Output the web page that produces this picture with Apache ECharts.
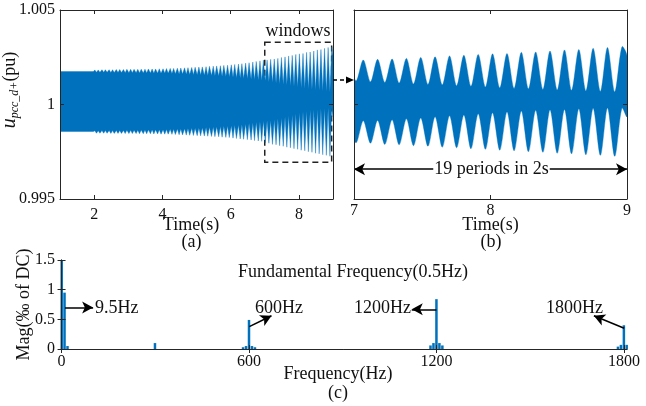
<!DOCTYPE html>
<html><head><meta charset="utf-8">
<script src="https://cdn.jsdelivr.net/npm/echarts@6/dist/echarts.min.js"></script>
<style>html,body{margin:0;padding:0;background:#fff}#c{width:646px;height:406px}</style>
</head><body><div id="c"></div>
<script>
// ---------- time-domain envelope data (pu) ----------
// steady band before the disturbance (1 s .. 2 s)
const flatTime  = [1.0, 1.98];
const flatUpper = [1.00174, 1.00174];
const flatLower = [0.99857, 0.99857];

// 2 s .. 7 s : 9.5 Hz envelope extrema (peaks of the band)
const growPeakTime = [2.02,2.12,2.23,2.33,2.44,2.54,2.65,2.75,2.86,2.96,
  3.07,3.17,3.28,3.38,3.49,3.59,3.70,3.80,3.91,
  4.02,4.12,4.23,4.33,4.44,4.54,4.65,4.75,4.86,4.96,
  5.07,5.17,5.28,5.38,5.49,5.59,5.70,5.80,5.91,
  6.02,6.12,6.23,6.33,6.44,6.54,6.65,6.75,6.86,6.96];
const growPeakUpper = [1.00183,1.00183,1.00184,1.00184,1.00184,1.00184,1.00185,1.00185,1.00185,1.00186,
  1.00186,1.00186,1.00186,1.00187,1.00187,1.00188,1.00188,1.00188,1.00189,
  1.00189,1.00190,1.00191,1.00191,1.00192,1.00193,1.00194,1.00195,1.00196,1.00197,
  1.00198,1.00199,1.00200,1.00202,1.00203,1.00204,1.00205,1.00207,1.00208,
  1.00210,1.00212,1.00214,1.00216,1.00219,1.00221,1.00225,1.00228,1.00231,1.00235];
const growPeakLower = [0.99861,0.99861,0.99862,0.99862,0.99862,0.99862,0.99863,0.99863,0.99863,0.99864,
  0.99864,0.99864,0.99864,0.99865,0.99865,0.99866,0.99866,0.99866,0.99867,
  0.99867,0.99868,0.99869,0.99869,0.99870,0.99871,0.99872,0.99873,0.99874,0.99875,
  0.99876,0.99877,0.99878,0.99880,0.99881,0.99882,0.99883,0.99885,0.99886,
  0.99888,0.99890,0.99892,0.99894,0.99897,0.99899,0.99903,0.99906,0.99909,0.99913];
// 2 s .. 7 s : valleys of the band
const growValleyTime = [2.07,2.17,2.28,2.38,2.49,2.59,2.70,2.80,2.91,3.02,
  3.12,3.23,3.33,3.44,3.54,3.65,3.75,3.86,3.96,
  4.07,4.17,4.28,4.38,4.49,4.59,4.70,4.80,4.91,5.02,
  5.12,5.23,5.33,5.44,5.54,5.65,5.75,5.86,5.96,
  6.07,6.17,6.28,6.38,6.49,6.60,6.70,6.81,6.91];
const growValleyUpper = [1.00170,1.00170,1.00170,1.00170,1.00169,1.00169,1.00169,1.00169,1.00168,1.00168,
  1.00168,1.00168,1.00167,1.00167,1.00167,1.00167,1.00166,1.00166,1.00165,
  1.00165,1.00165,1.00164,1.00163,1.00162,1.00161,1.00160,1.00159,1.00158,1.00157,
  1.00156,1.00155,1.00154,1.00153,1.00152,1.00151,1.00149,1.00148,1.00147,
  1.00144,1.00142,1.00140,1.00138,1.00136,1.00134,1.00131,1.00129,1.00127];
const growValleyLower = [0.99848,0.99848,0.99848,0.99848,0.99847,0.99847,0.99847,0.99847,0.99846,0.99846,
  0.99846,0.99846,0.99845,0.99845,0.99845,0.99845,0.99844,0.99844,0.99843,
  0.99843,0.99843,0.99842,0.99841,0.99840,0.99839,0.99838,0.99837,0.99836,0.99835,
  0.99834,0.99833,0.99832,0.99831,0.99830,0.99829,0.99827,0.99826,0.99825,
  0.99822,0.99820,0.99818,0.99816,0.99814,0.99812,0.99809,0.99807,0.99805];

// 7 s .. 9 s window (19 periods)
const winPeakTime  = [7.068,7.173,7.279,7.384,7.489,7.594,7.700,7.805,7.910,8.015,
  8.121,8.226,8.331,8.436,8.542,8.647,8.752,8.857,8.963];
const winPeakUpper = [1.00236,1.00239,1.00241,1.00244,1.00249,1.00252,1.00257,1.00260,1.00265,1.00268,
  1.00270,1.00276,1.00278,1.00283,1.00289,1.00291,1.00297,1.00302,1.00305];
const winPeakLower = [0.99914,0.99916,0.99919,0.99924,0.99929,0.99935,0.99940,0.99945,0.99951,0.99956,
  0.99961,0.99966,0.99969,0.99972,0.99974,0.99977,0.99980,0.99982,0.99982];
const winValleyTime  = [7.015,7.121,7.226,7.331,7.436,7.542,7.647,7.752,7.857,7.963,
  8.068,8.173,8.278,8.384,8.489,8.594,8.699,8.805,8.910];
const winValleyUpper = [1.00125,1.00120,1.00117,1.00114,1.00109,1.00106,1.00104,1.00099,1.00096,1.00093,
  1.00088,1.00085,1.00083,1.00080,1.00077,1.00075,1.00072,1.00069,1.00067];
const winValleyLower = [0.99797,0.99795,0.99789,0.99787,0.99782,0.99779,0.99774,0.99771,0.99766,0.99763,
  0.99758,0.99755,0.99750,0.99747,0.99742,0.99739,0.99734,0.99731,0.99726];
const winEdgeTime  = [9.0];
const winEdgeUpper = [1.00258];
const winEdgeLower = [0.99935];

// ---------- spectrum data ----------
const specFreq = [0.5, 9.5, 19, 299, 581, 590.5, 600, 609.5, 619,
  1181, 1190.5, 1200, 1209.5, 1219, 1781, 1790.5, 1800, 1809];
const specMag  = [1.5, 0.95, 0.05, 0.1, 0.03, 0.05, 0.49, 0.05, 0.03,
  0.06, 0.1, 0.84, 0.1, 0.06, 0.04, 0.07, 0.40, 0.07];

// ---------- tick labels ----------
const aTimeTicks = [2, 4, 6, 8];
const uTicks = [0.995, 1, 1.005];
const freqTicks = [0, 600, 1200, 1800];

// ---------- build ----------
const BLUE = '#0072BD';
const INK = '#111';
const AX = '#262626';
const FONT = 'Liberation Serif';

function mergePts(groups) {
  const pts = [];
  groups.forEach(g => g[0].forEach((t, i) => pts.push([t, g[1][i], g[2][i]])));
  pts.sort((p, q) => p[0] - q[0]);
  return pts;
}
const sigPts = mergePts([[flatTime, flatUpper, flatLower],
                         [growPeakTime, growPeakUpper, growPeakLower],
                         [growValleyTime, growValleyUpper, growValleyLower],
                         [winPeakTime, winPeakUpper, winPeakLower],
                         [winValleyTime, winValleyUpper, winValleyLower],
                         [winEdgeTime, winEdgeUpper, winEdgeLower]]);

function bandSeries(xi, yi, pts, smooth) {
  return {type: 'custom', xAxisIndex: xi, yAxisIndex: yi, clip: true, silent: true, z: 2,
    data: [[pts[0][0], pts[0][1]]],
    renderItem: function (params, api) {
      const up = pts.map(p => api.coord([p[0], p[1]]));
      const lo = pts.slice().reverse().map(p => api.coord([p[0], p[2]]));
      return {type: 'polygon', shape: {points: up.concat(lo), smooth: smooth},
        style: {fill: BLUE, stroke: BLUE, lineWidth: 0.4}};
    }};
}

const tickLbl = {fontFamily: FONT, fontSize: 16, color: INK};
const nameSty = {fontFamily: FONT, fontSize: 18, color: INK};
const axLine = {show: true, lineStyle: {color: AX, width: 1}};
const tick = (cv) => Object.assign({inside: true, length: 4, lineStyle: {color: AX}}, cv ? {customValues: cv} : {});
function ax(grid, o) {
  return Object.assign({type: 'value', gridIndex: grid, z: 10, axisLine: axLine, splitLine: {show: false},
    nameMoveOverlap: false,
    axisTick: tick(), axisLabel: Object.assign({margin: 5}, tickLbl)}, o);
}

const xAxes = [
  ax(0, {min: 1, max: 9, axisTick: tick(aTimeTicks),
    axisLabel: Object.assign({margin: 8, customValues: aTimeTicks}, tickLbl),
    name: 'Time(s)', nameLocation: 'middle', nameGap: 17, nameTextStyle: Object.assign({padding: [0, 11, 0, 0]}, nameSty)}),
  ax(0, {min: 1, max: 9, position: 'top', axisTick: tick(aTimeTicks), axisLabel: {show: false}}),
  ax(1, {min: 7, max: 9, interval: 1, axisLabel: Object.assign({margin: 4}, tickLbl),
    name: 'Time(s)', nameLocation: 'middle', nameGap: 17, nameTextStyle: nameSty}),
  ax(1, {min: 7, max: 9, interval: 1, position: 'top', axisLabel: {show: false}}),
  ax(2, {min: -5, max: 1810, axisTick: tick(freqTicks),
    axisLabel: Object.assign({margin: 5, customValues: freqTicks, formatter: v => String(v)}, tickLbl),
    name: 'Frequency(Hz)', nameLocation: 'middle', nameGap: 16, nameTextStyle: Object.assign({padding: [0, 11, 0, 0]}, nameSty)}),
  ax(2, {min: -5, max: 1810, position: 'top', axisTick: tick(freqTicks), axisLabel: {show: false}})
];

const uFmt = v => (Math.abs(v - 1) < 1e-9 ? '1' : v.toFixed(3));
const yAxes = [
  ax(0, {min: 0.995, max: 1.005, axisTick: tick(uTicks),
    axisLabel: Object.assign({margin: 5, customValues: uTicks, formatter: uFmt}, tickLbl)}),
  ax(0, {min: 0.995, max: 1.005, position: 'right', axisTick: tick(uTicks), axisLabel: {show: false}}),
  ax(1, {min: 0.995, max: 1.005, axisTick: tick(uTicks), axisLabel: {show: false}}),
  ax(1, {min: 0.995, max: 1.005, position: 'right', axisTick: tick(uTicks), axisLabel: {show: false}}),
  ax(2, {min: 0, max: 1.5, interval: 0.5,
    name: 'Mag(\u2030 of DC)', nameLocation: 'middle', nameGap: 27, nameTextStyle: nameSty}),
  ax(2, {min: 0, max: 1.5, interval: 0.5, position: 'right', axisLabel: {show: false}})
];

const arrowLine = {color: '#000', width: 1.5, type: 'solid'};
const series = [
  bandSeries(0, 0, sigPts, 0),
  bandSeries(2, 2, sigPts, 0.3),
  {type: 'line', xAxisIndex: 0, yAxisIndex: 0, data: [], z: 6, silent: true,
   markArea: {silent: true,
     itemStyle: {color: 'rgba(0,0,0,0)', borderColor: '#222', borderWidth: 1.5, borderType: [6, 4]},
     data: [[{coord: [7.0, 1.00329]}, {coord: [8.96, 0.99695]}]]}},
  {type: 'line', xAxisIndex: 2, yAxisIndex: 2, data: [], z: 6, silent: true,
   markLine: {silent: true, symbol: ['arrow', 'arrow'], symbolSize: [9, 11], label: {show: false},
     lineStyle: arrowLine, data: [[{coord: [7.0, 0.99658]}, {coord: [9.0, 0.99658]}]]}},
  {type: 'bar', xAxisIndex: 4, yAxisIndex: 4, barWidth: 2.5, silent: true, z: 2,
   itemStyle: {color: BLUE}, data: specFreq.map((f, i) => [f, specMag[i]])},
  {type: 'line', xAxisIndex: 4, yAxisIndex: 4, data: [], z: 6, silent: true,
   markLine: {silent: true, symbol: ['none', 'arrow'], symbolSize: [9, 11], label: {show: false},
     lineStyle: arrowLine,
     data: [
       [{coord: [11, 0.70]}, {coord: [101, 0.70]}],
       [{coord: [601, 0.376]}, {coord: [672, 0.561]}],
       [{coord: [1200, 0.669]}, {coord: [1121, 0.669]}],
       [{coord: [1801, 0.349]}, {coord: [1704, 0.561]}]
     ]}}
];

function txt(x, y, s, o) {
  return {type: 'text', x: x, y: y, z: 50,
    style: Object.assign({text: s, fontFamily: FONT, fontSize: 18, fill: INK, align: 'center', verticalAlign: 'middle'}, o || {})};
}

const graphic = [
  txt(298, 31, 'windows'),
  txt(491.5, 169, '19 periods in 2s', {backgroundColor: '#fff', padding: [0, 1, 0, 1]}),
  txt(191.5, 242, '(a)'),
  txt(491, 242, '(b)'),
  txt(338, 393, '(c)'),
  txt(353, 272, 'Fundamental Frequency(0.5Hz)'),
  txt(95, 308, '9.5Hz', {align: 'left'}),
  txt(279, 308, '600Hz'),
  txt(382.5, 308, '1200Hz'),
  txt(574.5, 308, '1800Hz'),
  {type: 'text', x: 21, y: 90, rotation: Math.PI / 2, z: 50,
   style: {text: '{u|u}{s|pcc_d+}{p|(pu)}', align: 'center', verticalAlign: 'bottom', fill: INK,
     rich: {
       u: {fontFamily: FONT, fontStyle: 'italic', fontSize: 20, lineHeight: 22, fill: INK},
       s: {fontFamily: FONT, fontStyle: 'italic', fontSize: 12, lineHeight: 12, verticalAlign: 'bottom', fill: INK},
       p: {fontFamily: FONT, fontSize: 18, lineHeight: 22, fill: INK}
     }}},
  {type: 'line', z: 50, shape: {x1: 333, y1: 80, x2: 348, y2: 80},
   style: {stroke: '#000', lineWidth: 1.3, lineDash: [4, 3]}},
  {type: 'polygon', z: 50, shape: {points: [[354, 80], [346, 76.5], [346, 83.5]]},
   style: {fill: '#000'}}
];

const chart = echarts.init(document.getElementById('c'));
chart.setOption({
  animation: false,
  backgroundColor: '#fff',
  grid: [
    {left: 60, top: 10, width: 273, height: 189},
    {left: 354, top: 10, width: 273, height: 189},
    {left: 60, top: 260, width: 567, height: 89}
  ],
  xAxis: xAxes,
  yAxis: yAxes,
  series: series,
  graphic: graphic
});
</script>
</body></html>
